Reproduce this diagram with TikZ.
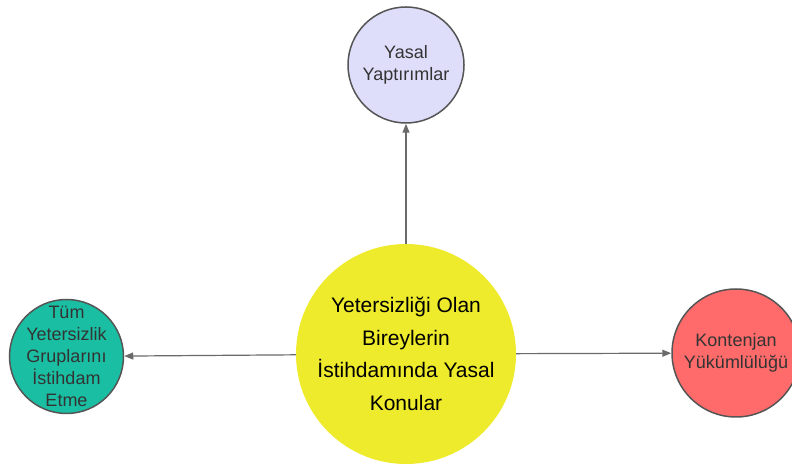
\documentclass[tikz,border=0pt]{standalone}
\usepackage{fontspec}
\setmainfont{Liberation Sans}
\usetikzlibrary{arrows.meta}
\definecolor{cerchiobordo}{HTML}{555555}
\definecolor{freccia}{HTML}{6A6A6A}
\definecolor{giallo}{HTML}{EEEA2C}
\definecolor{lilla}{HTML}{DEDEFA}
\definecolor{verdeacqua}{HTML}{1ABFA3}
\definecolor{salmone}{HTML}{FF6B6B}
\definecolor{testo}{HTML}{333333}
\tikzset{
  cerchio/.style={circle, draw=cerchiobordo, line width=1.5pt, inner sep=0pt,
    align=center, text=testo, font=\fontsize{18}{22}\selectfont},
  scritta/.style={align=center, text=testo, inner sep=0pt, font=\fontsize{18}{22}\selectfont},
  freccia/.style={draw=freccia, line width=1.2pt, -{Triangle[length=9pt,width=7pt]}}
}
\begin{document}
\begin{tikzpicture}[x=1pt,y=1pt]
      \useasboundingbox (0,0) rectangle (792,468);
      %centro
      \node[circle, fill=giallo, minimum size=220pt, inner sep=0pt, align=center,
        font=\fontsize{21}{32.5}\selectfont] (konu) at (406,114)
        {Yetersizliği Olan\\Bireylerin\\İstihdamında Yasal\\Konular};
      %cerchi
      \node[cerchio, fill=lilla, minimum size=116pt] (yaptirim) at (406,403) {Yasal\\Yaptırımlar};
      \node[cerchio, fill=verdeacqua, minimum size=114pt] (istihdam) at (66.5,111.5) {};
      \node[scritta] (istihdamtesto) at (istihdam.center)
        {Tüm\\Yetersizlik\\Gruplarını\\İstihdam\\Etme};
      \node[cerchio, fill=salmone, minimum size=128pt] (kontenjan) at (736,115) {Kontenjan\\Yükümlülüğü};
      %frecce
      \draw[freccia] (konu) -- (yaptirim);
      \draw[freccia] (konu) -- (istihdam);
      \draw[freccia] (konu) -- (kontenjan);
\end{tikzpicture}
\end{document}
